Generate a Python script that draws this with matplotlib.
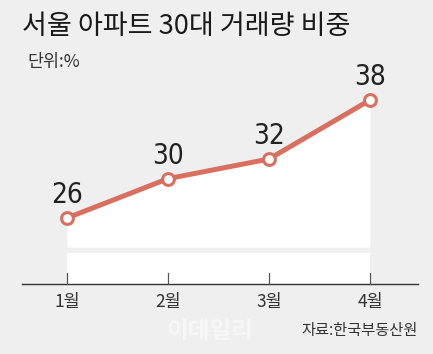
import matplotlib
matplotlib.use("Agg")
import matplotlib.pyplot as plt
from matplotlib import font_manager
from matplotlib.font_manager import FontProperties

months = ["1월", "2월", "3월", "4월"]
share = [26, 30, 32, 38]
title = "서울 아파트 30대 거래량 비중"
unit = "단위:%"
source = "자료:한국부동산원"

KR = ["Noto Sans CJK KR", "DejaVu Sans"]

# narrow face for the big numbers, whatever is installed
num_font = FontProperties(family="Liberation Sans", size=20)
names = {f.name for f in font_manager.fontManager.ttflist}
if "Liberation Sans Narrow" in names:
    num_font = FontProperties(family="Liberation Sans Narrow", size=21)
else:
    p = font_manager.findfont(FontProperties(family="DejaVu Sans", stretch="condensed"))
    if "Condensed" in p:
        num_font = FontProperties(fname=p, size=20)

BG = "#efefef"
RED = "#d9705f"

fig = plt.figure(figsize=(4.33, 3.54), dpi=100, facecolor=BG)
ax = fig.add_axes([0, 0, 1, 1], facecolor=BG)

# map categories so 1월..4월 sit at px 67..370, 9.83 px per percent point
px_x = (370 - 67) / 3
ax.set_xlim(-67 / px_x, 3 + (433 - 370) / px_x)
px_y = 9.83
ax.set_ylim(26 - (354 - 218) / px_y, 26 + 218 / px_y)
ax.axis("off")

x = list(range(len(months)))
floor = 26 - (247 - 218) / px_y
ax.fill_between(x, share, floor, color="white", lw=0, zorder=1)
band_top = 26 - (253 - 218) / px_y
base = 26 - (284 - 218) / px_y
ax.fill_between([0, 3], band_top, base, color="white", lw=0, zorder=1)

ax.plot(x, share, color=RED, lw=3.6, solid_capstyle="round", zorder=3,
        marker="o", ms=8.5, mfc="white", mec=RED, mew=2.2)

for xi, v in zip(x, share):
    ax.text(xi, v + 2.3, str(v), ha="center", va="center",
            fontproperties=num_font, color="#222222", zorder=4)

# baseline with ticks
ax.plot([(22 - 67) / px_x, (418 - 67) / px_x], [base, base], color="#333333", lw=1, zorder=2)
for xi, m in zip(x, months):
    ax.plot([xi, xi], [base, base + 1.1], color="#555555", lw=0.9, zorder=2)
    ax.text(xi, base - 1.85, m, ha="center", va="center", fontsize=12.5,
            family=KR, color="#333333")

fig.text(22 / 433, 1 - 27 / 354, title, ha="left", va="center",
         fontsize=19.5, family=KR, fontweight="medium", color="#1a1a1a")
fig.text(27 / 433, 1 - 62 / 354, unit, ha="left", va="center", fontsize=12.5,
         family=KR, color="#333333")
fig.text(418 / 433, 1 - 331 / 354, source, ha="right", va="center", fontsize=11,
         family=KR, color="#333333")
fig.text(210 / 433, 1 - 331 / 354, "이데일리", ha="center", va="center", fontsize=17,
         family=KR, fontweight="bold", color="white", alpha=0.5, zorder=0)

fig.savefig("out.png", dpi=100, facecolor=BG)
